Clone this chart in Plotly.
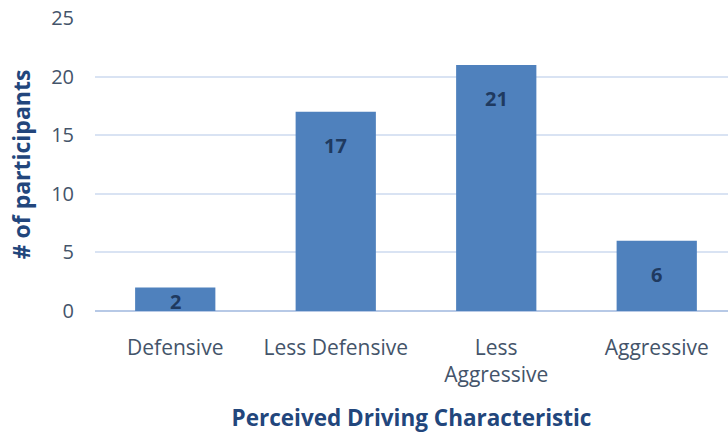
import plotly.graph_objects as go

categories = ["Defensive", "Less Defensive", "Less<br>Aggressive", "Aggressive"]
counts = [2, 17, 21, 6]
y_ticks = [0, 5, 10, 15, 20, 25]

BAR = "#4f81bd"
LABEL = "#1f3a60"
TICK = "#44546a"
TITLE = "#22467c"
FONT = "Open Sans"

xpos = list(range(len(categories)))
plot_h = 434 - 18 - 123
px_per_unit = plot_h / 25.0

fig = go.Figure(go.Bar(
    x=xpos, y=counts, width=0.5, marker=dict(color=BAR, line=dict(width=0)),
    hoverinfo="skip",
))

for xi, v in zip(xpos, counts):
    shift = -min(34, v * px_per_unit / 2 + 2)
    fig.add_annotation(x=xi, y=v, text=str(v), showarrow=False, yanchor="middle",
                       yshift=shift, font=dict(family=FONT, size=20, color=LABEL, weight="bold"))

fig.update_layout(
    width=728, height=434,
    margin=dict(l=95, r=0, t=18, b=123),
    paper_bgcolor="white", plot_bgcolor="white",
    showlegend=False,
    font=dict(family=FONT),
    xaxis=dict(
        tickmode="array", tickvals=xpos, ticktext=categories,
        range=[-0.5, 3.444], showgrid=False, zeroline=False, showline=False,
        tickfont=dict(size=21, color=TICK), ticklabelstandoff=22,
        title=dict(text="Perceived Driving Characteristic", standoff=22,
                   font=dict(size=22.5, color=TITLE, weight="bold")),
    ),
    yaxis=dict(
        range=[0, 25], tickvals=y_ticks, showgrid=True, gridcolor="#d9e3f3", gridwidth=1.5,
        zeroline=True, zerolinecolor="#b7c9e6", zerolinewidth=2, showline=False,
        tickfont=dict(size=20, color=TICK), ticklabelstandoff=20,
        title=dict(text="# of participants", standoff=14,
                   font=dict(size=23, color=TITLE, weight="bold")),
    ),
)

fig.write_html("out.html")
